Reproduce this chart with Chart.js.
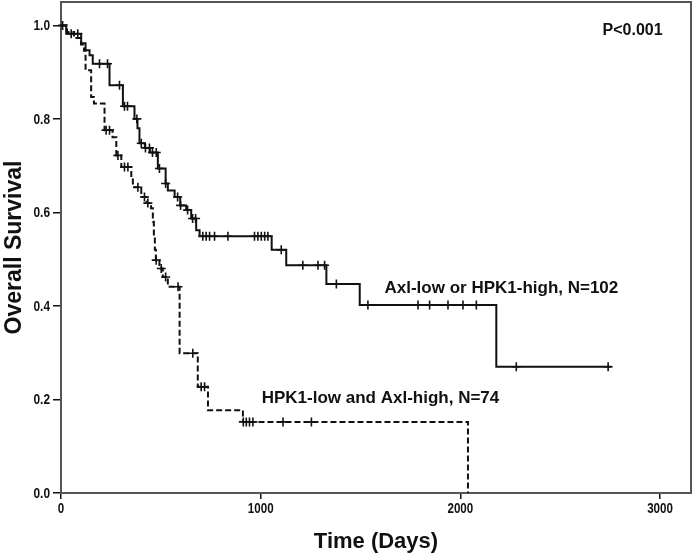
<!DOCTYPE html>
<html>
<head>
<meta charset="utf-8">
<script src="https://cdn.jsdelivr.net/npm/chart.js@4"></script>
<style>
html,body{margin:0;padding:0;background:#fff;}
#wrap{width:693px;height:556px;}
</style>
</head>
<body>
<div id="wrap"><canvas id="c" width="693" height="556"></canvas></div>
<script>
// ---- Data ----
const xTicks = [0, 1000, 2000, 3000];
const yTicks = [0.0, 0.2, 0.4, 0.6, 0.8, 1.0];

// Axl-low or HPK1-high, N=102 (solid)
const solidTimes = [0, 26, 101, 123, 143, 159, 243, 310, 368, 383, 393, 420, 445, 485, 524, 535, 569, 597, 627, 652, 677, 694, 1055, 1128, 1329, 1496, 2180, 2757];
const solidSurv  = [1.0, 0.982, 0.962, 0.947, 0.936, 0.918, 0.872, 0.827, 0.80, 0.78, 0.748, 0.738, 0.728, 0.694, 0.662, 0.647, 0.633, 0.615, 0.605, 0.587, 0.562, 0.549, 0.52, 0.487, 0.447, 0.402, 0.27, 0.27];
const solidCensored = [8, 51, 84, 193, 233, 293, 318, 333, 380, 402, 423, 443, 458, 477, 493, 524, 584, 599, 634, 659, 674, 710, 727, 744, 769, 836, 969, 986, 1003, 1020, 1036, 1103, 1211, 1287, 1320, 1379, 1537, 1788, 1846, 1938, 2013, 2080, 2280, 2740];

// HPK1-low and Axl-high, N=74 (dashed)
const dashTimes = [0, 30, 65, 100, 115, 123, 151, 165, 218, 258, 277, 302, 352, 360, 402, 429, 451, 460, 465, 470, 475, 493, 510, 535, 594, 685, 736, 911, 2038];
const dashSurv  = [1.0, 0.986, 0.973, 0.959, 0.946, 0.904, 0.847, 0.833, 0.776, 0.761, 0.722, 0.697, 0.675, 0.654, 0.633, 0.62, 0.609, 0.58, 0.55, 0.52, 0.498, 0.48, 0.462, 0.441, 0.299, 0.227, 0.177, 0.152, 0.0];
const dashCensored = [226, 243, 285, 318, 335, 385, 418, 435, 477, 502, 524, 586, 660, 702, 719, 913, 928, 944, 961, 1112, 1254];

const solidLabel = 'Axl-low or HPK1-high, N=102';
const dashLabel = 'HPK1-low and Axl-high, N=74';
const pLabel = 'P<0.001';

// ---- Helpers ----
function toPoints(times, surv) { return times.map((t, i) => ({x: t, y: surv[i]})); }
function survAt(times, surv, t) {
  let s = surv[0];
  for (let i = 0; i < times.length; i++) { if (times[i] <= t) s = surv[i]; }
  return s;
}
function censorPoints(cens, times, surv) { return cens.map(t => ({x: t, y: survAt(times, surv, t)})); }

const fam = "'Liberation Sans',Arial,Helvetica,sans-serif";

const framePlugin = {
  id: 'frame',
  beforeDatasetsDraw(chart) {
    const {ctx, chartArea: a} = chart;
    ctx.save();
    ctx.strokeStyle = '#555';
    ctx.lineWidth = 2;
    ctx.strokeRect(a.left, a.top, a.right - a.left, a.bottom - a.top);
    ctx.restore();
  },
  afterDatasetsDraw(chart) {
    const {ctx, scales: {x, y}} = chart;
    ctx.save();
    ctx.fillStyle = '#111';
    ctx.textBaseline = 'alphabetic';
    ctx.font = "bold 17px " + fam;
    ctx.textAlign = 'left';
    ctx.fillText(solidLabel, x.getPixelForValue(1620), y.getPixelForValue(0.427));
    ctx.fillText(dashLabel, x.getPixelForValue(1005), y.getPixelForValue(0.192));
    ctx.font = "bold 16px " + fam;
    ctx.textAlign = 'right';
    ctx.fillText(pLabel, x.getPixelForValue(3013), y.getPixelForValue(0.979));
    ctx.restore();
  },
  afterDraw(chart) {
    // condensed bold tick labels (like Arial Narrow Bold)
    const {ctx, scales: {x, y}} = chart;
    ctx.save();
    ctx.fillStyle = '#111';
    ctx.font = "bold 14.5px " + fam;
    ctx.textAlign = 'center';
    ctx.textBaseline = 'top';
    xTicks.forEach(v => {
      ctx.save();
      ctx.translate(x.getPixelForValue(v), x.top + 9);
      ctx.scale(0.8, 1);
      ctx.fillText(String(v), 0, 0);
      ctx.restore();
    });
    ctx.textAlign = 'right';
    ctx.textBaseline = 'middle';
    yTicks.forEach(v => {
      ctx.save();
      ctx.translate(y.right - 11, y.getPixelForValue(v) + 1);
      ctx.scale(0.82, 1);
      ctx.fillText(v.toFixed(1), 0, 0);
      ctx.restore();
    });
    ctx.restore();
  }
};

new Chart(document.getElementById('c'), {
  type: 'scatter',
  data: {
    datasets: [
      {
        label: solidLabel,
        data: toPoints(solidTimes, solidSurv),
        showLine: true, stepped: true,
        borderColor: '#111', borderWidth: 2, pointRadius: 0, fill: false
      },
      {
        label: dashLabel,
        data: toPoints(dashTimes, dashSurv),
        showLine: true, stepped: true,
        borderColor: '#111', borderWidth: 2, borderDash: [6, 3], pointRadius: 0, fill: false
      },
      {
        label: 'censored-solid',
        data: censorPoints(solidCensored, solidTimes, solidSurv),
        showLine: false, pointStyle: 'cross', pointRadius: 4.5, borderColor: '#111', pointBorderWidth: 1.6, clip: false
      },
      {
        label: 'censored-dash',
        data: censorPoints(dashCensored, dashTimes, dashSurv),
        showLine: false, pointStyle: 'cross', pointRadius: 4.5, borderColor: '#111', pointBorderWidth: 1.6, clip: false
      }
    ]
  },
  options: {
    responsive: false,
    animation: false,
    devicePixelRatio: 1,
    layout: {autoPadding: false, padding: {top: 2, right: 2, left: 0, bottom: 0}},
    plugins: {legend: {display: false}, tooltip: {enabled: false}},
    scales: {
      x: {
        type: 'linear', min: 0, max: 3155,
        afterBuildTicks: s => { s.ticks = xTicks.map(v => ({value: v})); },
        afterFit: s => { s.height = 63; s.paddingLeft = 0; s.paddingRight = 0; },
        grid: {drawOnChartArea: false, drawTicks: true, tickLength: 6, color: '#111', lineWidth: 1.5},
        border: {color: '#111', width: 1.5},
        ticks: {display: false},
        title: {display: true, text: 'Time (Days)', color: '#111', font: {family: fam, weight: 'bold', size: 22}, padding: {top: 0, bottom: 1}}
      },
      y: {
        type: 'linear', min: 0, max: 1.05,
        afterBuildTicks: s => { s.ticks = yTicks.map(v => ({value: v})); },
        afterFit: s => { s.width = 61; s.paddingTop = 0; s.paddingBottom = 0; },
        grid: {drawOnChartArea: false, drawTicks: true, tickLength: 8, color: '#111', lineWidth: 1.5},
        border: {color: '#111', width: 1.5},
        ticks: {display: false},
        title: {display: true, text: 'Overall Survival', color: '#111', font: {family: fam, weight: 'bold', size: 23}, padding: {top: 1, bottom: 0}}
      }
    }
  },
  plugins: [framePlugin]
});
</script>
</body>
</html>
